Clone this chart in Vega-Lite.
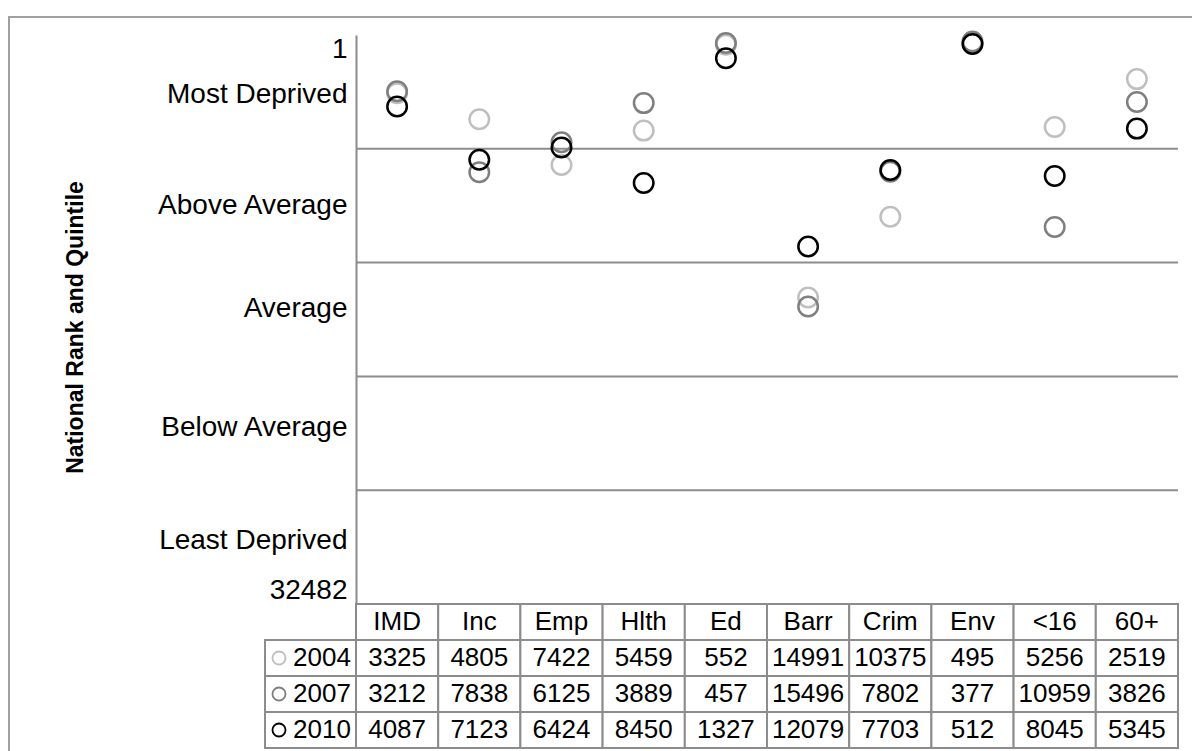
{
  "$schema": "https://vega.github.io/schema/vega-lite/v6.json",
  "autosize": "none",
  "width": 1183,
  "height": 734,
  "padding": {"left": 9, "top": 17, "right": 0, "bottom": 0},
  "background": "white",
  "config": {
    "view": {"stroke": "#a0a0a0", "strokeWidth": 2, "fill": "white", "strokeDash": [1183, 1917, 734]},
    "text": {"font": "Liberation Sans", "fontSize": 26, "color": "black"},
    "axis": {"labelFont": "Liberation Sans", "titleFont": "Liberation Sans"}
  },
  "data": {
    "values": [
      {"cat": "IMD", "year": "2004", "rank": 3325},
      {"cat": "Inc", "year": "2004", "rank": 4805},
      {"cat": "Emp", "year": "2004", "rank": 7422},
      {"cat": "Hlth", "year": "2004", "rank": 5459},
      {"cat": "Ed", "year": "2004", "rank": 552},
      {"cat": "Barr", "year": "2004", "rank": 14991},
      {"cat": "Crim", "year": "2004", "rank": 10375},
      {"cat": "Env", "year": "2004", "rank": 495},
      {"cat": "<16", "year": "2004", "rank": 5256},
      {"cat": "60+", "year": "2004", "rank": 2519},
      {"cat": "IMD", "year": "2007", "rank": 3212},
      {"cat": "Inc", "year": "2007", "rank": 7838},
      {"cat": "Emp", "year": "2007", "rank": 6125},
      {"cat": "Hlth", "year": "2007", "rank": 3889},
      {"cat": "Ed", "year": "2007", "rank": 457},
      {"cat": "Barr", "year": "2007", "rank": 15496},
      {"cat": "Crim", "year": "2007", "rank": 7802},
      {"cat": "Env", "year": "2007", "rank": 377},
      {"cat": "<16", "year": "2007", "rank": 10959},
      {"cat": "60+", "year": "2007", "rank": 3826},
      {"cat": "IMD", "year": "2010", "rank": 4087},
      {"cat": "Inc", "year": "2010", "rank": 7123},
      {"cat": "Emp", "year": "2010", "rank": 6424},
      {"cat": "Hlth", "year": "2010", "rank": 8450},
      {"cat": "Ed", "year": "2010", "rank": 1327},
      {"cat": "Barr", "year": "2010", "rank": 12079},
      {"cat": "Crim", "year": "2010", "rank": 7703},
      {"cat": "Env", "year": "2010", "rank": 512},
      {"cat": "<16", "year": "2010", "rank": 8045},
      {"cat": "60+", "year": "2010", "rank": 5345}
    ]
  },
  "resolve": {"scale": {"x": "independent", "y": "independent", "stroke": "independent"}},
  "layer": [
    {
      "data": {"values": [{"rank": 6497}, {"rank": 12993}, {"rank": 19490}, {"rank": 25986}]},
      "mark": {"type": "rule", "color": "#8c8c8c", "strokeWidth": 2},
      "encoding": {
        "y": {"field": "rank", "type": "quantitative", "scale": {"domain": [1, 32482], "range": [18, 587]}, "axis": null},
        "x": {"datum": 0, "type": "quantitative", "scale": {"domain": [0, 1], "range": [347, 1169]}, "axis": null},
        "x2": {"datum": 1}
      }
    },
    {
      "mark": {"type": "point", "shape": "circle", "filled": false, "strokeWidth": 2.5, "size": 380, "opacity": 1},
      "encoding": {
        "x": {"field": "cat", "type": "nominal", "scale": {"type": "band", "domain": ["IMD", "Inc", "Emp", "Hlth", "Ed", "Barr", "Crim", "Env", "<16", "60+"], "range": [347, 1169], "paddingInner": 0, "paddingOuter": 0}, "axis": null},
        "y": {
          "field": "rank", "type": "quantitative",
          "scale": {"domain": [1, 32482], "range": [18, 587]},
          "axis": {
            "orient": "left", "offset": -347,
            "values": [1, 3370, 9733, 15641, 22405, 28830, 32482],
            "labelExpr": "datum.value == 1 ? '1' : datum.value == 3370 ? 'Most Deprived' : datum.value == 9733 ? 'Above Average' : datum.value == 15641 ? 'Average' : datum.value == 22405 ? 'Below Average' : datum.value == 28830 ? 'Least Deprived' : '32482'",
            "ticks": false, "grid": false,
            "domainColor": "#8c8c8c", "domainWidth": 2,
            "labelFontSize": 28, "labelColor": "black", "labelPadding": 9,
            "labelFlush": true, "labelLimit": 400, "labelOverlap": false,
            "title": "National Rank and Quintile",
            "titleFontSize": 23, "titleFontWeight": "bold", "titleColor": "black",
            "titleX": -281, "titleY": 310, "titleAngle": 270,
            "titleAlign": "center", "titleBaseline": "middle"
          }
        },
        "stroke": {"field": "year", "type": "nominal", "scale": {"domain": ["2004", "2007", "2010"], "range": ["#bfbfbf", "#7f7f7f", "#000000"]}, "legend": null}
      }
    },
    {
      "transform": [{"filter": "datum.year == '2004'"}],
      "mark": {"type": "rect", "fill": "white", "stroke": "#8c8c8c", "strokeWidth": 2},
      "encoding": {
        "x": {"field": "cat", "type": "nominal", "scale": {"type": "band", "domain": ["IMD", "Inc", "Emp", "Hlth", "Ed", "Barr", "Crim", "Env", "<16", "60+"], "range": [347, 1169], "paddingInner": 0, "paddingOuter": 0}, "axis": null},
        "y": {"datum": "header", "type": "nominal", "scale": {"type": "band", "domain": ["header", "2004", "2007", "2010"], "range": [587, 731], "paddingInner": 0, "paddingOuter": 0}, "axis": null}
      }
    },
    {
      "transform": [{"filter": "datum.year == '2004'"}],
      "mark": {"type": "text"},
      "encoding": {
        "x": {"field": "cat", "type": "nominal", "scale": {"type": "band", "domain": ["IMD", "Inc", "Emp", "Hlth", "Ed", "Barr", "Crim", "Env", "<16", "60+"], "range": [347, 1169], "paddingInner": 0, "paddingOuter": 0}, "axis": null},
        "y": {"datum": "header", "type": "nominal", "scale": {"type": "band", "domain": ["header", "2004", "2007", "2010"], "range": [587, 731], "paddingInner": 0, "paddingOuter": 0}, "axis": null},
        "text": {"field": "cat"}
      }
    },
    {
      "mark": {"type": "rect", "fill": "white", "stroke": "#8c8c8c", "strokeWidth": 2},
      "encoding": {
        "x": {"field": "cat", "type": "nominal", "scale": {"type": "band", "domain": ["IMD", "Inc", "Emp", "Hlth", "Ed", "Barr", "Crim", "Env", "<16", "60+"], "range": [347, 1169], "paddingInner": 0, "paddingOuter": 0}, "axis": null},
        "y": {"field": "year", "type": "nominal", "scale": {"type": "band", "domain": ["header", "2004", "2007", "2010"], "range": [587, 731], "paddingInner": 0, "paddingOuter": 0}, "axis": null}
      }
    },
    {
      "mark": {"type": "text"},
      "encoding": {
        "x": {"field": "cat", "type": "nominal", "scale": {"type": "band", "domain": ["IMD", "Inc", "Emp", "Hlth", "Ed", "Barr", "Crim", "Env", "<16", "60+"], "range": [347, 1169], "paddingInner": 0, "paddingOuter": 0}, "axis": null},
        "y": {"field": "year", "type": "nominal", "scale": {"type": "band", "domain": ["header", "2004", "2007", "2010"], "range": [587, 731], "paddingInner": 0, "paddingOuter": 0}, "axis": null},
        "text": {"field": "rank", "type": "quantitative", "format": "d"}
      }
    },
    {
      "transform": [{"filter": "datum.cat == 'IMD'"}],
      "mark": {"type": "rect", "fill": "white", "stroke": "#8c8c8c", "strokeWidth": 2},
      "encoding": {
        "x": {"datum": "label", "type": "nominal", "scale": {"type": "band", "domain": ["label"], "range": [256, 347], "paddingInner": 0, "paddingOuter": 0}, "axis": null},
        "y": {"field": "year", "type": "nominal", "scale": {"type": "band", "domain": ["header", "2004", "2007", "2010"], "range": [587, 731], "paddingInner": 0, "paddingOuter": 0}, "axis": null}
      }
    },
    {
      "transform": [{"filter": "datum.cat == 'IMD'"}],
      "mark": {"type": "text", "align": "left", "dx": -17.5},
      "encoding": {
        "x": {"datum": "label", "type": "nominal", "scale": {"type": "band", "domain": ["label"], "range": [256, 347], "paddingInner": 0, "paddingOuter": 0}, "axis": null},
        "y": {"field": "year", "type": "nominal", "scale": {"type": "band", "domain": ["header", "2004", "2007", "2010"], "range": [587, 731], "paddingInner": 0, "paddingOuter": 0}, "axis": null},
        "text": {"field": "year"}
      }
    },
    {
      "transform": [{"filter": "datum.cat == 'IMD'"}],
      "mark": {"type": "point", "shape": "circle", "filled": false, "strokeWidth": 1.8, "size": 170, "xOffset": -31.5, "opacity": 1},
      "encoding": {
        "x": {"datum": "label", "type": "nominal", "scale": {"type": "band", "domain": ["label"], "range": [256, 347], "paddingInner": 0, "paddingOuter": 0}, "axis": null},
        "y": {"field": "year", "type": "nominal", "scale": {"type": "band", "domain": ["header", "2004", "2007", "2010"], "range": [587, 731], "paddingInner": 0, "paddingOuter": 0}, "axis": null},
        "stroke": {"field": "year", "type": "nominal", "scale": {"domain": ["2004", "2007", "2010"], "range": ["#bfbfbf", "#7f7f7f", "#000000"]}, "legend": null}
      }
    }
  ]
}
